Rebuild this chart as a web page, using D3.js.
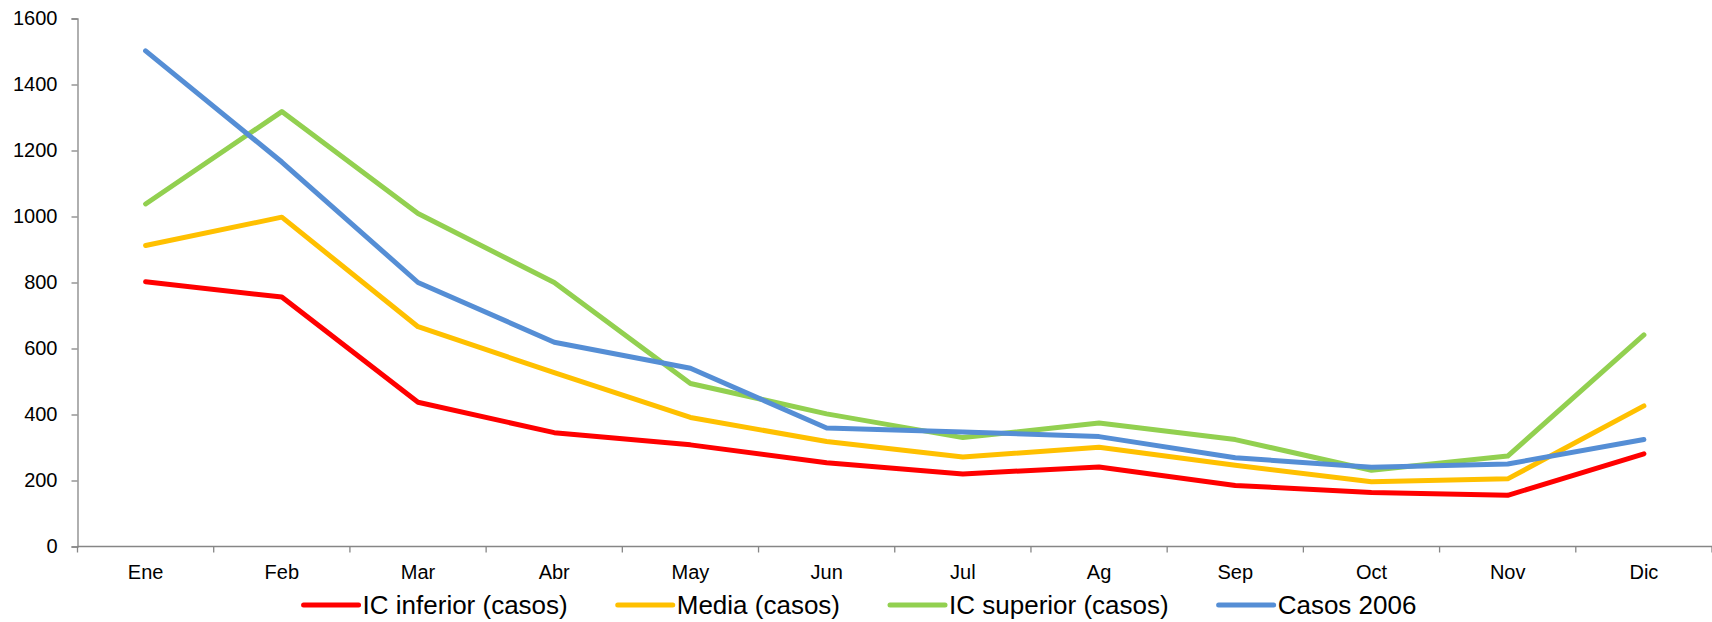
<!DOCTYPE html>
<html>
<head>
<meta charset="utf-8">
<script src="https://cdn.jsdelivr.net/npm/d3@7"></script>
<style>
  html, body { margin: 0; padding: 0; background: #fff; }
  svg { display: block; font-family: "Liberation Sans", Arial, sans-serif; }
</style>
</head>
<body>
<svg id="chart" width="1712" height="622"></svg>
<script>
// Monthly case counts
const months = ["Ene", "Feb", "Mar", "Abr", "May", "Jun", "Jul", "Ag", "Sep", "Oct", "Nov", "Dic"];
const icInferior = [802, 756, 437, 345, 308, 254, 220, 241, 185, 164, 155, 281];
const media      = [912, 998, 666, 527, 391, 318, 271, 301, 246, 196, 205, 426];
const icSuperior = [1038, 1318, 1009, 800, 494, 402, 330, 374, 324, 231, 274, 641];
const casos2006  = [1502, 1165, 800, 619, 540, 359, 347, 333, 269, 240, 250, 324];
const yTicks = [0, 200, 400, 600, 800, 1000, 1200, 1400, 1600];

const series = [
  { name: "IC inferior (casos)", values: icInferior, color: "#FF0000" },
  { name: "Media (casos)",       values: media,      color: "#FFC000" },
  { name: "IC superior (casos)", values: icSuperior, color: "#92D050" },
  { name: "Casos 2006",          values: casos2006,  color: "#558ED5" }
];

const svg = d3.select("#chart");
const plotLeft = 77.5, plotRight = 1712, plotTop = 18.5, plotBottom = 546.5;

const x = d3.scaleBand().domain(months).range([plotLeft, plotRight]).paddingInner(0).paddingOuter(0);
const y = d3.scaleLinear().domain([0, 1600]).range([plotBottom, plotTop]);
const axisColor = "#868686";

// Y axis
const yAxis = d3.axisLeft(y).tickValues(yTicks).tickSize(6).tickPadding(14).tickFormat(d3.format("d"));
const gy = svg.append("g").attr("transform", `translate(${plotLeft},0)`).call(yAxis);
gy.select(".domain").attr("stroke", axisColor).attr("stroke-width", 1.3);
gy.selectAll(".tick line").attr("stroke", axisColor).attr("stroke-width", 1.3);
gy.selectAll(".tick text").attr("font-size", 20).attr("fill", "#000")
  .attr("font-family", "Liberation Sans, Arial, sans-serif");

// X axis with ticks between categories
const gx = svg.append("g").attr("transform", `translate(0,${plotBottom})`);
gx.append("line").attr("x1", plotLeft).attr("x2", plotRight).attr("y1", 0).attr("y2", 0)
  .attr("stroke", axisColor).attr("stroke-width", 1.3);
const bounds = months.map(m => x(m)).concat([x(months[months.length - 1]) + x.bandwidth()]);
gx.selectAll("line.tk").data(bounds).enter().append("line").attr("class", "tk")
  .attr("x1", d => d).attr("x2", d => d).attr("y1", 0).attr("y2", 6)
  .attr("stroke", axisColor).attr("stroke-width", 1.3);
gx.selectAll("text").data(months).enter().append("text")
  .attr("x", d => x(d) + x.bandwidth() / 2).attr("y", 32)
  .attr("text-anchor", "middle").attr("font-size", 20).attr("fill", "#000")
  .text(d => d);

// Lines
const line = d3.line()
  .x((d, i) => x(months[i]) + x.bandwidth() / 2)
  .y(d => y(d))
  .curve(d3.curveLinear);

svg.append("g").selectAll("path").data(series).enter().append("path")
  .attr("d", d => line(d.values))
  .attr("fill", "none")
  .attr("stroke", d => d.color)
  .attr("stroke-width", 5)
  .attr("stroke-linejoin", "round")
  .attr("stroke-linecap", "round");

// Legend, centred below the plot
const legendY = 605;
const fontSize = 26;
const sampleLen = 55, sampleGap = 4, itemGap = 50, legendCenter = 860;
const legend = svg.append("g");
const items = legend.selectAll("g").data(series).enter().append("g");
items.append("line").attr("x1", 0).attr("x2", sampleLen).attr("y1", 0).attr("y2", 0)
  .attr("stroke", d => d.color).attr("stroke-width", 5).attr("stroke-linecap", "round");
items.append("text").attr("x", sampleLen + sampleGap).attr("y", 0).attr("dy", "0.35em")
  .attr("font-size", fontSize).attr("fill", "#000").text(d => d.name);

let widths = [];
items.each(function () { widths.push(this.getBBox().width); });
const total = d3.sum(widths) + itemGap * (widths.length - 1);
let cx = legendCenter - total / 2;
items.attr("transform", (d, i) => {
  const t = `translate(${cx},${legendY})`;
  cx += widths[i] + itemGap;
  return t;
});
</script>
</body>
</html>
